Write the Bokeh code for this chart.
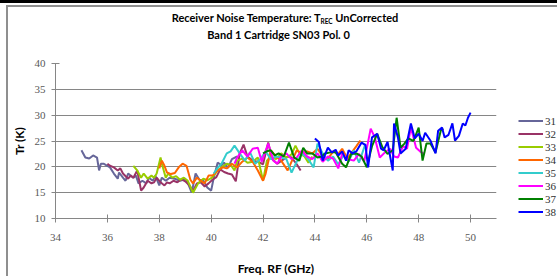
from bokeh.plotting import figure
from bokeh.models import Range1d, FixedTicker, Legend, LegendItem, Div
from bokeh.layouts import column
from bokeh.embed import file_html
from bokeh.resources import INLINE

# ---------------- data ----------------
series_names = ["31", "32", "33", "34", "35", "36", "37", "38"]
series_colors = ["#666699", "#993366", "#99CC00", "#FF6600",
                 "#33CCCC", "#FF00FF", "#008000", "#0000FF"]

f31 = [35.0, 35.15, 35.3, 35.45, 35.6, 35.68, 35.75, 35.85, 36.0, 36.1, 36.25, 36.4, 36.45, 36.6, 36.7,
       36.8, 37.0, 37.1, 37.2, 37.35, 37.5, 37.6, 37.75, 37.85, 38.0, 38.1, 38.25, 38.4, 38.6, 38.8,
       39.0, 39.1, 39.25, 39.4, 39.55, 39.7, 39.85, 40.0, 40.1, 40.25, 40.4, 40.5, 40.65, 40.8, 41.0]
t31 = [23.2, 21.8, 21.6, 22.2, 21.8, 19.3, 20.6, 20.6, 20.2, 19.9, 18.7, 17.7, 18.9, 17.9, 17.3,
       18.7, 17.9, 18.3, 16.8, 17.3, 16.8, 17.9, 17.3, 18.3, 16.4, 17.9, 17.3, 17.9, 17.7, 17.3,
       17.6, 16.9, 15.0, 18.7, 17.5, 17.3, 16.0, 15.4, 17.9, 20.8, 20.3, 20.8, 19.8, 21.5, 22.0]

f32 = [36.0, 36.1, 36.25, 36.4, 36.5, 36.6, 36.8, 36.9, 37.0, 37.15, 37.3, 37.4, 37.55, 37.7, 37.8,
       37.9, 38.05, 38.2, 38.3, 38.4, 38.55, 38.7, 38.85, 39.0, 39.15, 39.3, 39.45, 39.6, 39.75, 39.9,
       40.05, 40.2, 40.35, 40.5, 40.65, 40.8, 40.95, 41.1, 41.25, 41.4, 41.6, 41.8, 42.0, 42.2, 42.35,
       42.55, 42.75, 42.95, 43.1, 43.3, 43.45]
t32 = [20.6, 20.2, 19.9, 19.3, 19.7, 18.7, 17.7, 18.3, 17.9, 19.3, 15.4, 16.0, 17.3, 16.8, 17.0,
       17.9, 17.0, 16.4, 17.0, 16.8, 17.3, 17.0, 17.6, 17.2, 16.5, 15.3, 16.8, 17.0, 16.2, 16.8,
       17.5, 18.0, 19.5, 19.0, 18.7, 18.5, 17.2, 22.6, 24.3, 22.0, 21.2, 21.0, 20.5, 24.7, 21.5,
       20.6, 21.3, 22.0, 21.8, 20.5, 19.3]

f33 = [37.0, 37.15, 37.3, 37.4, 37.55, 37.7, 37.8, 37.9, 38.05, 38.1, 38.25, 38.35, 38.5, 38.65, 38.8,
       38.95, 39.1, 39.3, 39.5, 39.7, 39.85, 40.0, 40.1, 40.25, 40.4, 40.6, 40.75, 40.9, 41.0, 41.2,
       41.4, 41.6, 41.8, 42.0, 42.15, 42.3, 42.5, 42.7, 42.9, 43.1, 43.25, 43.4, 43.6, 43.75, 43.9]
t33 = [20.2, 19.3, 17.9, 18.7, 17.7, 18.3, 17.9, 18.7, 21.8, 20.6, 17.9, 18.7, 17.9, 18.2, 17.5,
       17.9, 17.3, 15.0, 16.8, 17.7, 17.4, 17.8, 18.3, 19.3, 19.9, 20.6, 20.4, 19.3, 21.2, 21.6,
       20.8, 21.0, 21.8, 17.3, 21.2, 22.0, 21.5, 22.6, 21.8, 22.4, 24.1, 22.6, 22.0, 20.8, 22.0]

f34 = [38.0, 38.1, 38.2, 38.3, 38.45, 38.6, 38.75, 38.9, 39.05, 39.2, 39.3, 39.45, 39.6, 39.75, 39.9,
       40.05, 40.25, 40.45, 40.6, 40.8, 41.0, 41.2, 41.4, 41.6, 41.8, 42.0, 42.1, 42.3, 42.5, 42.7,
       42.95, 43.1, 43.3, 43.5, 43.7, 43.9, 44.1, 44.3, 44.5, 44.7, 44.9, 45.05, 45.25, 45.45, 45.6, 45.75]
t34 = [19.7, 21.2, 20.2, 18.9, 18.6, 18.8, 19.9, 20.6, 20.2, 17.5, 16.8, 17.9, 17.3, 16.8, 18.3,
       18.3, 19.3, 19.9, 19.7, 20.6, 19.9, 21.0, 21.8, 21.0, 19.3, 17.3, 18.7, 23.2, 22.0, 21.2,
       19.3, 21.0, 23.2, 22.6, 23.0, 22.6, 23.5, 22.0, 21.5, 23.0, 22.5, 23.5, 21.6, 23.0, 24.0, 25.1]

f35 = [40.1, 40.25, 40.4, 40.6, 40.75, 40.9, 41.1, 41.3, 41.5, 41.7, 41.9, 42.1, 42.3, 42.5, 42.7,
       42.9, 43.1, 43.3, 43.5, 43.7, 43.95, 44.1, 44.3, 44.5, 44.7, 44.9, 45.1, 45.3, 45.5, 45.7, 45.95]
t35 = [18.7, 19.8, 20.6, 22.6, 23.0, 24.1, 22.6, 21.2, 22.8, 20.6, 21.5, 23.0, 21.5, 22.0, 21.8,
       21.5, 18.9, 21.0, 22.5, 21.8, 19.9, 24.5, 22.6, 21.2, 22.0, 20.5, 22.2, 21.0, 23.2, 20.8, 24.5]

f36 = [40.9, 41.0, 41.2, 41.4, 41.6, 41.8, 41.95, 42.2, 42.4, 42.55, 42.7, 42.9, 43.1, 43.3, 43.5,
       43.7, 43.9, 44.1, 44.3, 44.5, 44.7, 44.9, 45.05, 45.25, 45.5, 45.7, 45.9, 46.15, 46.3, 46.5,
       46.7, 46.9, 47.05, 47.2, 47.4, 47.55, 47.7, 47.9, 48.05, 48.2]
t36 = [20.6, 21.8, 23.2, 22.0, 23.5, 23.7, 21.0, 24.5, 21.2, 20.6, 22.0, 22.6, 21.5, 21.8, 23.2,
       22.0, 21.5, 22.6, 21.0, 22.0, 21.6, 19.7, 22.6, 21.5, 21.2, 22.5, 21.0, 27.4, 25.8, 21.8,
       22.8, 23.5, 22.0, 21.8, 24.0, 23.5, 27.6, 23.7, 23.0, 22.5]

f37 = [42.0, 42.15, 42.3, 42.45, 42.6, 42.8, 43.0, 43.2, 43.4, 43.55, 43.7, 43.9, 44.1, 44.25, 44.4,
       44.6, 44.8, 45.05, 45.2, 45.4, 45.6, 45.8, 46.0, 46.2, 46.4, 46.6, 46.8, 47.0, 47.15, 47.3,
       47.45, 47.6, 47.8, 48.0, 48.15, 48.3, 48.45, 48.65, 48.85, 48.95]
t37 = [22.6, 23.0, 23.2, 22.2, 22.6, 22.0, 24.7, 21.8, 21.2, 23.7, 22.6, 22.6, 21.8, 22.0, 22.6,
       22.8, 22.8, 20.6, 19.9, 22.5, 22.6, 22.0, 19.9, 24.0, 26.4, 23.8, 22.5, 23.2, 29.5, 23.7,
       24.5, 25.5, 25.0, 27.6, 21.2, 24.5, 24.5, 22.8, 27.0, 27.4]

f38 = [44.0, 44.15, 44.3, 44.5, 44.65, 44.8, 44.9, 45.05, 45.2, 45.3, 45.45, 45.6, 45.8, 45.95, 46.05,
       46.2, 46.4, 46.55, 46.65, 46.8, 47.0, 47.05, 47.2, 47.3, 47.5, 47.7, 47.85, 48.0, 48.15, 48.25,
       48.45, 48.65, 48.75, 48.9, 49.0, 49.15, 49.3, 49.4, 49.55, 49.7, 49.8, 49.9, 50.0]
t38 = [25.5, 24.8, 21.2, 23.7, 22.8, 23.3, 22.2, 23.0, 21.2, 23.2, 22.6, 23.0, 24.7, 24.2, 19.9,
       25.7, 26.4, 23.5, 23.2, 24.8, 19.3, 28.4, 25.7, 22.6, 23.5, 28.4, 25.5, 26.4, 25.0, 26.6,
       25.1, 22.6, 27.0, 27.6, 25.7, 26.2, 28.4, 25.1, 26.0, 28.4, 28.0, 29.5, 30.5]

freqs = [f31, f32, f33, f34, f35, f36, f37, f38]
temps = [t31, t32, t33, t34, t35, t36, t37, t38]

x_ticks = [34, 36, 38, 40, 42, 44, 46, 48, 50]
y_ticks = [10, 15, 20, 25, 30, 35, 40]

title_main = "Receiver Noise Temperature: T"
title_sub = "REC"
title_rest = " UnCorrected"
title_line2 = "Band 1 Cartridge SN03 Pol. 0"
x_label = "Freq. RF (GHz)"
y_label = "Tr (K)"

# ---------------- title block (with the chart-area frame of the screenshot) ----------------
TITLE_H = 50
base = "font-family:Lato;font-weight:bold;font-size:11px;line-height:17px;color:#000;text-align:center;"
title_html = (
    '<div style="position:relative;width:557px;height:50px;">'
    '<div style="position:absolute;left:0;top:0;width:557px;height:3px;background:#000;"></div>'
    '<div style="position:absolute;left:7px;top:5px;width:550px;height:2px;background:#8f8f8f;"></div>'
    '<div style="position:absolute;left:6px;top:5px;width:2px;height:271px;background:#8f8f8f;"></div>'
    '<div style="position:absolute;left:0;top:9px;width:557px;">'
    f'<div style="{base}padding-left:13px;">{title_main}'
    f'<span style="font-size:6.5px;position:relative;top:2px;line-height:0">{title_sub}</span>'
    f'{title_rest}</div>'
    f'<div style="{base}">{title_line2}</div></div></div>'
)
title_div = Div(text=title_html, width=557, height=TITLE_H, margin=0)

# ---------------- figure ----------------
AX = "#868686"
p = figure(width=557, height=276 - TITLE_H, frame_width=441, frame_height=155,
           output_backend="svg", toolbar_location=None,
           x_range=Range1d(34, 51), y_range=Range1d(10, 40), margin=0,
           min_border_left=55, min_border_right=61, min_border_top=63 - TITLE_H,
           min_border_bottom=58)
p.outline_line_color = None
p.background_fill_color = None
p.border_fill_color = None

p.xgrid.visible = False
p.ygrid.grid_line_color = AX
p.ygrid.grid_line_width = 1

for ax in (p.xaxis[0], p.yaxis[0]):
    ax.axis_line_color = AX
    ax.major_tick_line_color = AX
    ax.minor_tick_line_color = None
    ax.major_tick_in = 4
    ax.major_tick_out = 4
    ax.major_label_text_font = "Liberation Serif"
    ax.major_label_text_font_size = "11px"
    ax.major_label_text_color = "#595959"
    ax.axis_label_text_font = "Lato"
    ax.axis_label_text_font_style = "bold"
    ax.axis_label_text_font_size = "12px"
    ax.axis_label_text_color = "#000000"

p.xaxis[0].ticker = FixedTicker(ticks=x_ticks)
p.yaxis[0].ticker = FixedTicker(ticks=y_ticks)
p.xaxis[0].major_label_standoff = 11
p.yaxis[0].major_label_standoff = 6
p.xaxis[0].axis_label = x_label
p.yaxis[0].axis_label = y_label
p.xaxis[0].axis_label_standoff = 17
p.yaxis[0].axis_label_standoff = 5

items = []
for name, col, fx, ty in zip(series_names, series_colors, freqs, temps):
    r = p.line(fx, ty, line_color=col, line_width=2)
    items.append(LegendItem(label=name, renderers=[r]))

legend = Legend(items=items, location=(22, 0), orientation="vertical",
                padding=0, margin=0, spacing=0, label_height=13, glyph_height=13,
                glyph_width=25, label_standoff=2,
                label_text_font="Liberation Serif", label_text_font_size="11px",
                label_text_color="#303030", border_line_color=None,
                background_fill_color=None)
p.add_layout(legend, "right")

layout = column(title_div, p, spacing=0, margin=0)
open("out.html", "w").write(file_html(layout, INLINE))
